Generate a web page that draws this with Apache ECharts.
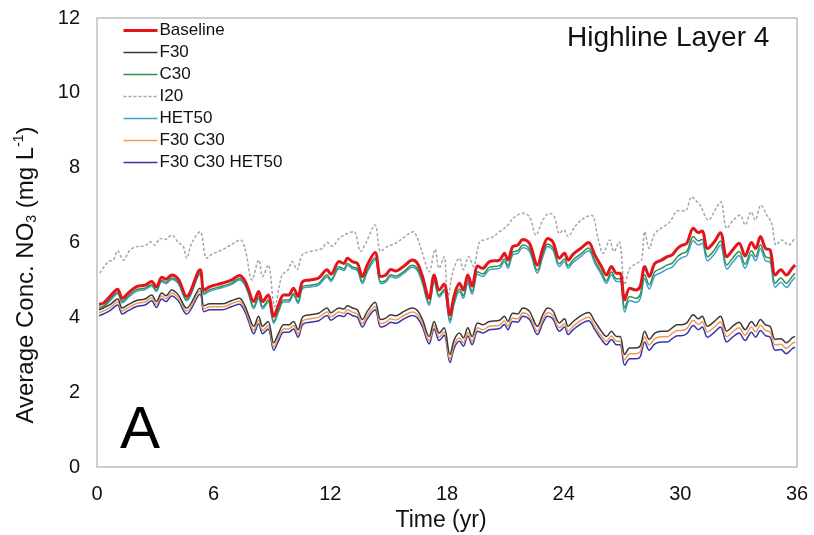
<!DOCTYPE html>
<html>
<head>
<meta charset="utf-8">
<title>Highline Layer 4</title>
<script src="https://cdn.jsdelivr.net/npm/echarts@6/dist/echarts.min.js"></script>
<style>
  html, body { margin: 0; padding: 0; background: #fff; }
  #chart { width: 814px; height: 535px; }
</style>
</head>
<body>
<div id="chart"></div>
<script>
// Simulation years shared by the scenario series (except I20)
const years = [0.1,0.33,0.67,1.06,1.3,1.61,2.04,2.47,2.81,3.05,3.33,3.55,3.84,4.18,4.61,5.3,5.5,5.81,6.43,6.94,7.32,7.58,7.8,
  8.06,8.31,8.52,8.8,9.09,9.34,9.6,9.86,10.1,10.34,10.58,10.97,11.4,11.83,12.03,12.45,12.7,12.88,13.13,13.39,13.65,13.9,14.3,14.59,14.85,15.11,15.36,15.79,16.22,16.48,16.74,17.08,17.34,17.6,17.85,
  18.15,18.38,18.64,18.84,19.07,19.29,19.58,19.84,20.18,20.7,20.95,21.13,21.38,21.64,21.9,22.24,22.65,22.93,23.18,23.44,23.78,24.04,24.23,24.49,24.87,25.28,25.6,25.94,26.2,26.46,26.71,26.9,
  27.14,27.4,27.7,27.93,28.17,28.4,28.69,29.03,29.33,29.58,29.85,30.06,30.33,30.67,30.93,31.12,31.4,31.75,32.06,32.39,32.69,33.02,33.33,33.66,33.87,34.12,34.38,34.62,34.88,35.17,35.45,35.75,35.9];

const baseline = [4.35,4.38,4.56,4.75,4.51,4.65,4.82,4.86,4.96,4.81,5.07,5.02,5.13,5.02,4.56,5.27,4.73,4.82,4.91,5.00,5.12,5.00,4.73,
  4.42,4.69,4.42,4.60,4.03,4.34,4.60,4.60,4.78,4.56,4.96,5.00,5.05,5.27,5.15,5.49,5.44,5.58,5.49,5.44,5.09,5.40,5.73,5.09,5.13,5.28,5.24,5.37,5.53,5.44,5.09,4.51,5.13,4.73,4.89,
  4.07,4.60,4.91,4.73,5.13,4.84,5.37,5.31,5.49,5.53,5.71,5.53,5.89,5.93,6.08,5.98,5.40,5.84,6.11,6.02,5.58,5.71,5.53,5.69,5.84,6.00,5.67,5.36,5.13,5.36,5.18,5.18,
  4.47,4.78,4.73,4.82,5.36,5.09,5.44,5.53,5.62,5.67,5.84,5.92,5.98,6.38,6.26,6.31,5.84,6.02,6.26,5.62,5.80,5.98,5.64,6.00,5.84,6.16,5.84,5.80,5.13,5.27,5.13,5.31,5.40];

const f30 = [4.20,4.25,4.34,4.49,4.25,4.34,4.45,4.49,4.60,4.42,4.65,4.58,4.73,4.60,4.25,4.78,4.31,4.36,4.36,4.45,4.51,4.34,4.05,
  3.76,4.03,3.76,3.89,3.32,3.58,3.80,3.80,3.89,3.67,4.01,4.07,4.11,4.25,4.12,4.25,4.22,4.31,4.25,4.20,3.94,4.16,4.40,3.94,3.98,4.07,4.04,4.16,4.25,4.18,3.94,3.49,3.89,3.58,3.72,
  3.01,3.41,3.58,3.45,3.72,3.49,3.85,3.80,3.89,3.92,4.03,3.89,4.11,4.09,4.25,4.16,3.76,4.07,4.25,4.18,3.85,3.96,3.76,3.89,4.04,4.13,3.89,3.63,3.49,3.63,3.49,3.49,
  3.01,3.18,3.18,3.23,3.63,3.41,3.58,3.63,3.63,3.72,3.80,3.80,3.85,4.07,3.96,4.03,3.76,3.89,4.03,3.63,3.76,3.87,3.67,3.89,3.76,3.94,3.80,3.76,3.41,3.43,3.32,3.45,3.49];

const c30 = [4.27,4.30,4.48,4.67,4.43,4.57,4.74,4.78,4.88,4.73,4.99,4.94,5.05,4.94,4.48,5.19,4.65,4.74,4.83,4.92,5.04,4.92,4.65,
  4.28,4.55,4.28,4.46,3.89,4.20,4.46,4.46,4.64,4.42,4.82,4.86,4.91,5.13,5.01,5.35,5.30,5.44,5.35,5.30,4.95,5.26,5.59,4.95,4.99,5.14,5.10,5.23,5.39,5.30,4.95,4.37,4.99,4.59,4.75,
  3.92,4.45,4.76,4.58,4.98,4.69,5.22,5.16,5.34,5.38,5.56,5.38,5.74,5.78,5.93,5.83,5.25,5.69,5.96,5.87,5.43,5.56,5.38,5.54,5.69,5.85,5.52,5.21,4.98,5.21,5.03,5.03,
  4.25,4.56,4.51,4.60,5.14,4.87,5.22,5.31,5.40,5.45,5.62,5.70,5.76,6.16,6.04,6.09,5.62,5.80,6.04,5.40,5.58,5.76,5.42,5.78,5.62,5.94,5.62,5.58,4.91,5.05,4.91,5.09,5.18];

const het50 = [4.23,4.26,4.44,4.63,4.39,4.53,4.70,4.74,4.84,4.69,4.95,4.90,5.01,4.90,4.44,5.15,4.61,4.70,4.79,4.88,5.00,4.88,4.61,
  4.23,4.50,4.23,4.41,3.84,4.15,4.41,4.41,4.59,4.37,4.77,4.81,4.86,5.08,4.96,5.30,5.25,5.39,5.30,5.25,4.90,5.21,5.54,4.90,4.94,5.09,5.05,5.18,5.34,5.25,4.90,4.32,4.94,4.54,4.70,
  3.85,4.38,4.69,4.51,4.91,4.62,5.15,5.09,5.27,5.31,5.49,5.31,5.67,5.71,5.86,5.76,5.18,5.62,5.89,5.80,5.36,5.49,5.31,5.47,5.62,5.78,5.45,5.14,4.91,5.14,4.96,4.96,
  4.14,4.45,4.40,4.49,5.03,4.76,5.11,5.20,5.29,5.34,5.51,5.59,5.65,6.05,5.93,5.98,5.51,5.69,5.93,5.29,5.47,5.65,5.31,5.67,5.51,5.83,5.51,5.47,4.80,4.94,4.80,4.98,5.07];

const f30c30 = [4.12,4.17,4.26,4.41,4.17,4.26,4.37,4.41,4.52,4.34,4.57,4.50,4.65,4.52,4.17,4.70,4.23,4.28,4.28,4.37,4.43,4.26,3.97,
  3.65,3.92,3.65,3.78,3.21,3.47,3.69,3.69,3.78,3.56,3.90,3.96,4.00,4.14,4.01,4.14,4.11,4.20,4.14,4.09,3.83,4.05,4.29,3.83,3.87,3.96,3.93,4.05,4.14,4.07,3.83,3.38,3.78,3.47,3.61,
  2.88,3.28,3.45,3.32,3.59,3.36,3.72,3.67,3.76,3.79,3.90,3.76,3.98,3.96,4.12,4.03,3.63,3.94,4.12,4.05,3.72,3.83,3.63,3.76,3.91,4.00,3.76,3.50,3.36,3.50,3.36,3.36,
  2.86,3.03,3.03,3.08,3.48,3.26,3.43,3.48,3.48,3.57,3.65,3.65,3.70,3.92,3.81,3.88,3.61,3.74,3.88,3.48,3.61,3.72,3.52,3.74,3.61,3.79,3.65,3.61,3.26,3.28,3.17,3.30,3.34];

const f30c30het50 = [4.04,4.09,4.18,4.33,4.09,4.18,4.29,4.33,4.44,4.26,4.49,4.42,4.57,4.44,4.09,4.62,4.15,4.20,4.20,4.29,4.35,4.18,3.89,
  3.56,3.83,3.56,3.69,3.12,3.38,3.60,3.60,3.69,3.47,3.81,3.87,3.91,4.05,3.92,4.05,4.02,4.11,4.05,4.00,3.74,3.96,4.20,3.74,3.78,3.87,3.84,3.96,4.05,3.98,3.74,3.29,3.69,3.38,3.52,
  2.79,3.19,3.36,3.23,3.50,3.27,3.63,3.58,3.67,3.70,3.81,3.67,3.89,3.87,4.03,3.94,3.54,3.85,4.03,3.96,3.63,3.74,3.54,3.67,3.82,3.91,3.67,3.41,3.27,3.41,3.27,3.27,
  2.72,2.89,2.89,2.94,3.34,3.12,3.29,3.34,3.34,3.43,3.51,3.51,3.56,3.78,3.67,3.74,3.47,3.60,3.74,3.34,3.47,3.58,3.38,3.60,3.47,3.65,3.51,3.47,3.12,3.14,3.03,3.16,3.20];

// I20 scenario has its own sampling years
const yearsI20 = [0.15,0.58,0.84,1.06,1.35,1.7,2.04,2.47,2.73,2.98,3.24,3.5,3.84,4.15,4.44,4.61,4.87,5.3,5.64,5.92,6.43,6.86,7.37,7.63,7.97,8.32,8.52,8.8,9.14,9.52,9.83,10.03,10.29,10.55,10.97,11.57,11.83,12.1,12.45,12.88,13.22,13.56,13.82,14.3,14.59,14.93,15.36,15.79,16.26,16.48,16.74,17.08,17.39,17.59,17.85,
  18.04,18.21,18.38,18.64,18.84,19.12,19.36,19.67,19.92,20.35,20.7,20.95,21.21,21.38,21.9,22.24,22.58,22.93,23.27,23.52,23.78,24.0,24.23,24.57,25.0,25.43,25.77,26.03,26.37,26.58,26.85,
  27.14,27.4,27.74,28.0,28.17,28.4,28.69,29.12,29.46,29.89,30.25,30.59,30.85,31.02,31.45,31.79,32.08,32.39,32.73,33.07,33.33,33.64,33.85,34.14,34.45,34.7,34.93,35.22,35.56,35.9];
const i20 = [5.18,5.49,5.53,5.78,5.53,5.80,5.89,5.91,6.02,5.93,6.11,6.08,6.20,6.02,5.89,5.58,5.98,6.29,5.58,5.69,5.80,5.93,6.07,5.80,5.00,5.53,5.09,5.40,4.29,5.13,5.27,5.49,5.27,5.67,5.76,5.84,6.00,5.90,6.11,6.24,6.29,5.76,5.98,6.47,5.76,5.89,5.98,6.14,6.29,6.11,5.71,5.22,5.82,5.31,5.62,
  4.47,5.00,5.36,5.58,5.27,5.62,5.36,6.02,6.07,6.15,6.29,6.38,6.51,6.64,6.78,6.69,6.20,6.60,6.78,6.69,6.24,6.34,6.16,6.42,6.64,6.73,6.11,5.71,6.07,5.76,6.02,
  4.87,5.31,5.44,5.53,6.29,5.84,6.24,6.42,6.55,6.85,6.85,7.22,7.09,7.00,6.60,6.87,7.09,6.38,6.60,6.73,6.47,6.82,6.60,7.00,6.73,6.51,5.93,6.07,5.93,6.14];

const xTicks = [0, 6, 12, 18, 24, 30, 36];
const yTicks = [0, 2, 4, 6, 8, 10, 12];

const FONT = '"Liberation Sans", Arial, sans-serif';

function pairs(xs, ys) {
  return xs.map((x, i) => [x, ys[i]]);
}

function line(name, xs, ys, color, width, extra) {
  return Object.assign({
    name: name,
    type: 'line',
    data: pairs(xs, ys),
    symbol: 'none',
    smooth: 0.35,
    lineStyle: { color: color, width: width },
    itemStyle: { color: color },
    emphasis: { disabled: true }
  }, extra || {});
}

const chart = echarts.init(document.getElementById('chart'), null, { renderer: 'canvas' });

chart.setOption({
  animation: false,
  backgroundColor: '#ffffff',
  textStyle: { fontFamily: FONT },
  grid: {
    left: 97, right: 17, top: 18, bottom: 68,
    outerBoundsMode: 'none',
    show: true, borderColor: '#bfbfbf', borderWidth: 1.5, backgroundColor: 'transparent'
  },
  legend: {
    orient: 'vertical',
    left: 117, top: 17,
    itemWidth: 34, itemHeight: 10, itemGap: 5,
    itemStyle: { opacity: 0 },
    textStyle: { fontFamily: FONT, fontSize: 17, color: '#111', padding: [0, 0, 0, -3] },
    data: [
      { name: 'Baseline', lineStyle: { width: 3 } },
      { name: 'F30', lineStyle: { width: 1.5 } },
      { name: 'C30', lineStyle: { width: 1.5 } },
      { name: 'I20', lineStyle: { width: 1.5 } },
      { name: 'HET50', lineStyle: { width: 1.5 } },
      { name: 'F30 C30', lineStyle: { width: 1.5 } },
      { name: 'F30 C30 HET50', lineStyle: { width: 1.5 } }
    ]
  },
  graphic: [
    { type: 'text', left: 567, top: 24, style: { text: 'Highline Layer 4', font: '28px ' + FONT, fill: '#111' } },
    { type: 'text', left: 120, top: 401, style: { text: 'A', font: '60px ' + FONT, fill: '#000' } },
    {
      type: 'text', x: 26, y: 275, rotation: Math.PI / 2,
      style: {
        text: '{a|Average Conc. NO}{sub|3}{a| (mg L}{sup|-1}{a|)}',
        align: 'center', verticalAlign: 'middle',
        rich: {
          a: { fontFamily: FONT, fontSize: 24, fill: '#111', lineHeight: 27 },
          sub: { fontFamily: FONT, fontSize: 14, fill: '#111', verticalAlign: 'bottom', lineHeight: 16, padding: [9, 0, 0, 0] },
          sup: { fontFamily: FONT, fontSize: 14, fill: '#111', verticalAlign: 'top', lineHeight: 16, padding: [0, 0, 9, 0] }
        }
      }
    }
  ],
  xAxis: {
    type: 'value', min: 0, max: 36, interval: 6,
    name: 'Time (yr)', nameLocation: 'middle', nameGap: 40,
    nameTextStyle: { fontFamily: FONT, fontSize: 23, color: '#111', padding: [0, 12, 0, 0] },
    axisLine: { show: false }, axisTick: { show: false }, splitLine: { show: false },
    axisLabel: {
      fontFamily: FONT, fontSize: 20, color: '#111', margin: 17,
      formatter: v => (xTicks.indexOf(v) >= 0 ? String(v) : '')
    }
  },
  yAxis: {
    type: 'value', min: 0, max: 12, interval: 2,
    axisLine: { show: false }, axisTick: { show: false }, splitLine: { show: false },
    axisLabel: {
      fontFamily: FONT, fontSize: 20, color: '#111', margin: 17,
      formatter: v => (yTicks.indexOf(v) >= 0 ? String(v) : '')
    }
  },
  series: [
    line('Baseline', years, baseline, '#e3141c', 3, { z: 10 }),
    line('F30', years, f30, '#3a3a3a', 1.5, { z: 6 }),
    line('C30', years, c30, '#2e9448', 1.5, { z: 5 }),
    line('I20', yearsI20, i20, '#a6a6a6', 1.5, { z: 3, lineStyle: { color: '#a6a6a6', width: 1.5, type: [3, 2] } }),
    line('HET50', years, het50, '#3d9fd4', 1.5, { z: 4 }),
    line('F30 C30', years, f30c30, '#ee9a54', 1.5, { z: 5 }),
    line('F30 C30 HET50', years, f30c30het50, '#3434b0', 1.5, { z: 4 })
  ]
});
</script>
</body>
</html>
